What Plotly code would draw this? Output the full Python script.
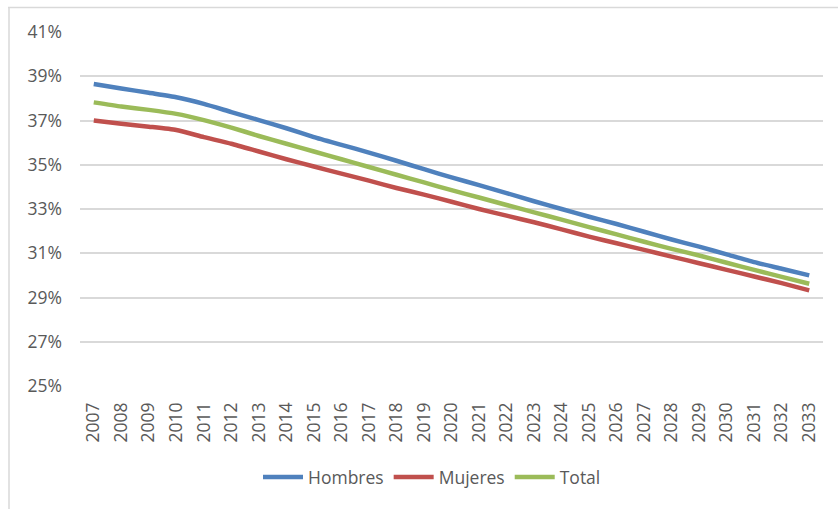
import plotly.graph_objects as go

years = [str(y) for y in range(2007, 2034)]

hombres = [38.65, 38.45, 38.25, 38.05, 37.75, 37.38, 37.02, 36.65, 36.25, 35.90,
           35.55, 35.18, 34.80, 34.43, 34.08, 33.72, 33.35, 33.00, 32.65, 32.32,
           31.97, 31.62, 31.30, 30.95, 30.60, 30.30, 30.00]
mujeres = [37.00, 36.85, 36.72, 36.57, 36.25, 35.95, 35.60, 35.25, 34.92, 34.60,
           34.28, 33.95, 33.65, 33.33, 33.00, 32.70, 32.40, 32.08, 31.75, 31.45,
           31.15, 30.85, 30.55, 30.25, 29.95, 29.65, 29.32]
total = [37.82, 37.63, 37.48, 37.30, 37.02, 36.68, 36.30, 35.95, 35.60, 35.25,
         34.90, 34.55, 34.20, 33.85, 33.52, 33.18, 32.85, 32.52, 32.18, 31.85,
         31.52, 31.20, 30.90, 30.57, 30.25, 29.93, 29.62]

y_ticks = [25, 27, 29, 31, 33, 35, 37, 39, 41]
y_tick_labels = [f"{v}%" for v in y_ticks]

series = [("Hombres", hombres, "#4F81BD"),
          ("Mujeres", mujeres, "#C0504D"),
          ("Total", total, "#9BBB59")]

W, H = 838, 509
L, R, T, B = 80, 15, 32, 123
pw, ph = W - L - R, H - T - B

fig = go.Figure()
for name, vals, col in series:
    fig.add_trace(go.Scatter(x=years, y=vals, name=name, mode="lines",
                             line=dict(color=col, width=4.5, shape="spline", smoothing=0.5)))

def px_x(p):
    return (p - L) / pw

def px_y(p):
    return (H - B - p) / ph

FONT = "Open Sans"
FS = 17.5
COL = "#595959"

fig.update_layout(
    width=W, height=H,
    margin=dict(l=L, r=R, t=T, b=B),
    paper_bgcolor="white", plot_bgcolor="white",
    font=dict(family=FONT, size=FS, color=COL),
    showlegend=True,
    legend=dict(orientation="h", x=px_x(432), y=px_y(477), xanchor="center", yanchor="middle",
                font=dict(family=FONT, size=FS, color=COL), itemwidth=40, traceorder="normal",
                bgcolor="rgba(0,0,0,0)"),
    xaxis=dict(type="category", range=[-0.5, len(years) - 0.5], showgrid=False,
               showline=False, zeroline=False, ticks="", tickangle=-90,
               ticklabelstandoff=12, tickfont=dict(family=FONT, size=FS, color=COL)),
    yaxis=dict(range=[25, 41], tickvals=y_ticks, ticktext=y_tick_labels,
               showgrid=True, gridcolor="#D9D9D9", gridwidth=1.5, zeroline=False,
               showline=False, ticks="", ticklabelstandoff=17,
               tickfont=dict(family=FONT, size=FS, color=COL)),
    shapes=[
        dict(type="line", xref="paper", yref="paper", x0=px_x(8), x1=px_x(840),
             y0=px_y(7.5), y1=px_y(7.5), line=dict(color="#D9D9D9", width=1.5)),
        dict(type="line", xref="paper", yref="paper", x0=px_x(9), x1=px_x(9),
             y0=px_y(7.5), y1=px_y(512), line=dict(color="#D9D9D9", width=1.5)),
    ],
)

fig.write_html("out.html", config={"displayModeBar": False},
               post_script="document.body.style.margin='0px';document.body.style.overflow='hidden';")
